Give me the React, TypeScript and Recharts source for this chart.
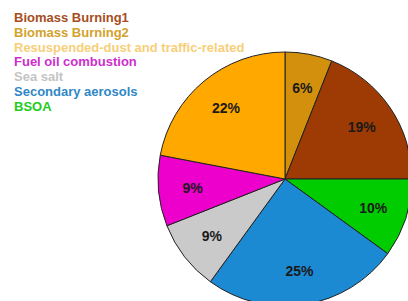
import React from 'react';
import { PieChart, Pie, Cell } from 'recharts';

const categories = [
  'Biomass Burning2',
  'Biomass Burning1',
  'BSOA',
  'Secondary aerosols',
  'Sea salt',
  'Fuel oil combustion',
  'Resuspended-dust and traffic-related',
];
const values = [6, 19, 10, 25, 9, 9, 22];
const sliceColors = ['#D2900C', '#9E3A04', '#00CC00', '#1C89D3', '#CACACA', '#EE00CC', '#FFA800'];

const legendOrder = [
  'Biomass Burning1',
  'Biomass Burning2',
  'Resuspended-dust and traffic-related',
  'Fuel oil combustion',
  'Sea salt',
  'Secondary aerosols',
  'BSOA',
];
const legendColors = ['#A54E22', '#D2A22C', '#F7CF78', '#CC2FCC', '#C4C4C4', '#2F88C6', '#22CC22'];

const data = categories.map((name, i) => ({ name, value: values[i], fill: sliceColors[i] }));

const RADIAN = Math.PI / 180;
const renderLabel = (props: any) => {
  const { cx, cy, midAngle, outerRadius, percent } = props;
  const r = outerRadius * 0.73;
  const x = cx + r * Math.cos(-midAngle * RADIAN);
  const y = cy + r * Math.sin(-midAngle * RADIAN);
  return (
    <text
      x={x}
      y={y}
      fill="#1a1a1a"
      textAnchor="middle"
      dominantBaseline="central"
      fontFamily="'Liberation Sans', Arial, sans-serif"
      fontWeight="bold"
      fontSize={14}
    >
      {`${Math.round(percent * 100)}%`}
    </text>
  );
};

export default function App() {
  return (
    <div style={{ position: 'absolute', left: 0, top: 0, width: 408, height: 301, background: '#fff' }}>
      <PieChart width={408} height={301} margin={{ top: 0, right: 0, bottom: 0, left: 0 }}>
        <Pie
          data={data}
          dataKey="value"
          nameKey="name"
          cx={285}
          cy={179}
          outerRadius={127}
          startAngle={90}
          endAngle={-270}
          stroke="#222"
          strokeWidth={1}
          label={renderLabel}
          labelLine={false}
          isAnimationActive={false}
        >
          {data.map((d) => (
            <Cell key={d.name} fill={d.fill} />
          ))}
        </Pie>
      </PieChart>
      <div
        style={{
          position: 'absolute',
          left: 14,
          top: 11,
          fontFamily: "'Liberation Sans', Arial, sans-serif",
          fontWeight: 'bold',
          fontSize: 13,
          lineHeight: '14.8px',
        }}
      >
        {legendOrder.map((name, i) => (
          <div key={name} style={{ color: legendColors[i], whiteSpace: 'nowrap' }}>
            {name}
          </div>
        ))}
      </div>
    </div>
  );
}
